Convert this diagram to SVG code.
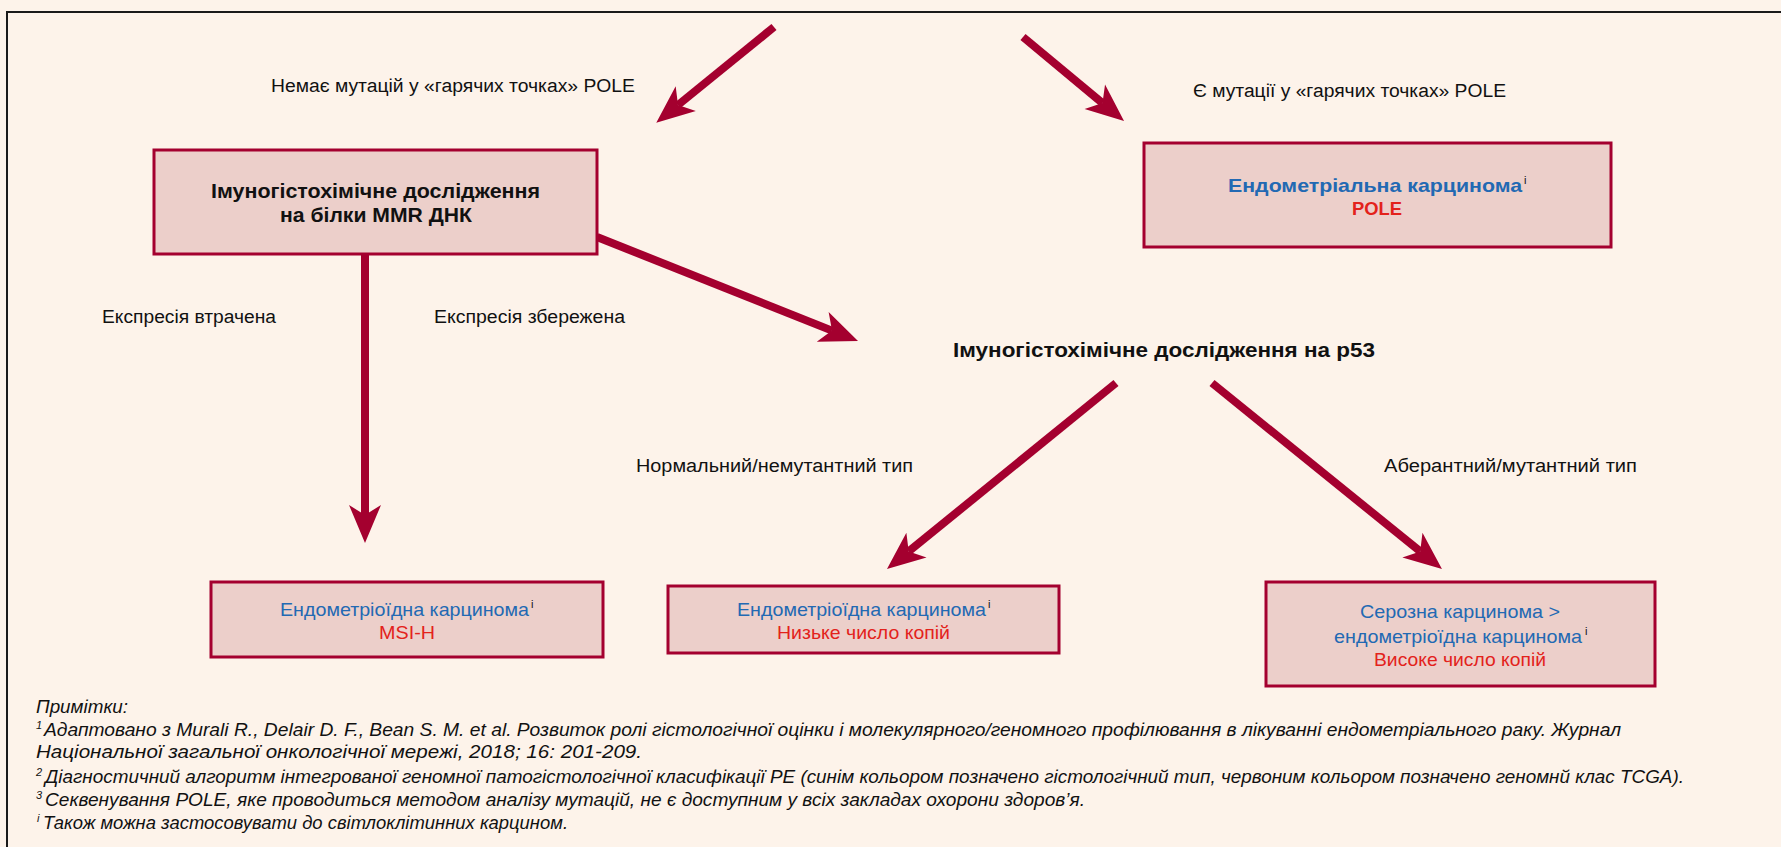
<svg xmlns="http://www.w3.org/2000/svg" width="1781" height="847" viewBox="0 0 1781 847">
<style>
.lbl{font-family:"Liberation Sans",Arial,sans-serif;font-size:18px;fill:#111}
.bold{font-family:"Liberation Sans",Arial,sans-serif;font-size:20px;font-weight:bold;fill:#111}
.box{fill:#ECCFCA;stroke:#A4002F;stroke-width:3}
.blue{font-family:"Liberation Sans",Arial,sans-serif;font-size:19px;fill:#2269B3}
.red{font-family:"Liberation Sans",Arial,sans-serif;font-size:19px;fill:#E3221B}
.sup{font-family:"Liberation Sans",Arial,sans-serif;font-size:11px;fill:#111}
.note{font-family:"Liberation Sans",Arial,sans-serif;font-size:18px;font-style:italic;fill:#111}
.nsup{font-family:"Liberation Sans",Arial,sans-serif;font-size:11px;font-style:italic;fill:#111}
.arr{stroke:#A4002F;stroke-width:8;fill:none;stroke-linecap:butt;marker-end:url(#head)}
</style>
<defs>
<marker id="head" markerUnits="userSpaceOnUse" orient="auto" refX="10" refY="0" markerWidth="40" markerHeight="34" overflow="visible">
<path d="M0,-16 L38,0 L0,16 L10,0 Z" fill="#A4002F"/>
</marker>
</defs>
<rect x="0" y="0" width="1781" height="847" fill="#FDF3EA"/>
<path d="M7,847 V12 H1781" fill="none" stroke="#1a1a1a" stroke-width="2"/>

<g id="connectors">
<line class="arr" x1="774" y1="27" x2="678" y2="105"/>
<line class="arr" x1="1023" y1="37" x2="1102.5" y2="103.1"/>
<line class="arr" x1="365" y1="254" x2="365" y2="515"/>
<line class="arr" x1="597" y1="237" x2="832" y2="330.6"/>
<line class="arr" x1="1116" y1="383" x2="908.7" y2="551.4"/>
<line class="arr" x1="1212" y1="383" x2="1420.2" y2="551.4"/>
</g>

<g id="labels">
<text class="lbl" x="271" y="92" textLength="364" lengthAdjust="spacingAndGlyphs">Немає мутацій у «гарячих точках» POLE</text>
<text class="lbl" x="1193" y="97" textLength="313" lengthAdjust="spacingAndGlyphs">Є мутації у «гарячих точках» POLE</text>
<text class="lbl" x="102" y="323" textLength="174" lengthAdjust="spacingAndGlyphs">Експресія втрачена</text>
<text class="lbl" x="434" y="323" textLength="191" lengthAdjust="spacingAndGlyphs">Експресія збережена</text>
<text class="lbl" x="636" y="472" textLength="277" lengthAdjust="spacingAndGlyphs">Нормальний/немутантний тип</text>
<text class="lbl" x="1384" y="472" textLength="253" lengthAdjust="spacingAndGlyphs">Аберантний/мутантний тип</text>
</g>

<g id="node-mmr">
<rect class="box" x="154" y="150" width="443" height="104"/>
<text class="bold" x="211" y="198" textLength="329" lengthAdjust="spacingAndGlyphs">Імуногістохімічне дослідження</text>
<text class="bold" x="280" y="222" textLength="192" lengthAdjust="spacingAndGlyphs">на білки MMR ДНК</text>
</g>

<g id="node-pole">
<rect class="box" x="1144" y="143" width="467" height="104"/>
<text class="blue" x="1228" y="192" font-weight="bold" textLength="294" lengthAdjust="spacingAndGlyphs">Ендометріальна карцинома</text>
<text class="sup" x="1524" y="184">і</text>
<text class="red" x="1352" y="215" font-weight="bold" textLength="50" lengthAdjust="spacingAndGlyphs">POLE</text>
</g>

<g id="node-p53">
<text class="bold" x="953" y="357" textLength="422" lengthAdjust="spacingAndGlyphs">Імуногістохімічне дослідження на p53</text>
</g>

<g id="node-msi">
<rect class="box" x="211" y="582" width="392" height="75"/>
<text class="blue" x="280" y="616" textLength="249" lengthAdjust="spacingAndGlyphs">Ендометріоїдна карцинома</text>
<text class="sup" x="531" y="608">і</text>
<text class="red" x="379" y="639" textLength="56" lengthAdjust="spacingAndGlyphs">MSI-H</text>
</g>

<g id="node-low">
<rect class="box" x="668" y="586" width="391" height="67"/>
<text class="blue" x="737" y="616" textLength="249" lengthAdjust="spacingAndGlyphs">Ендометріоїдна карцинома</text>
<text class="sup" x="988" y="608">і</text>
<text class="red" x="777" y="639" textLength="173" lengthAdjust="spacingAndGlyphs">Низьке число копій</text>
</g>

<g id="node-high">
<rect class="box" x="1266" y="582" width="389" height="104"/>
<text class="blue" x="1360" y="618" textLength="200" lengthAdjust="spacingAndGlyphs">Серозна карцинома &gt;</text>
<text class="blue" x="1334" y="643" textLength="248" lengthAdjust="spacingAndGlyphs">ендометріоїдна карцинома</text>
<text class="sup" x="1585" y="635">і</text>
<text class="red" x="1374" y="666" textLength="172" lengthAdjust="spacingAndGlyphs">Високе число копій</text>
</g>

<g id="notes">
<text class="note" x="36" y="713" textLength="92" lengthAdjust="spacingAndGlyphs">Примітки:</text>
<text class="nsup" x="36" y="729">1</text>
<text class="note" x="44" y="736" textLength="1577" lengthAdjust="spacingAndGlyphs">Адаптовано з Murali R., Delair D. F., Bean S. M. et al. Розвиток ролі гістологічної оцінки і молекулярного/геномного профілювання в лікуванні ендометріального раку. Журнал</text>
<text class="note" x="36" y="758" textLength="606" lengthAdjust="spacingAndGlyphs">Національної загальної онкологічної мережі, 2018; 16: 201-209.</text>
<text class="nsup" x="36" y="776">2</text>
<text class="note" x="45" y="783" textLength="1639" lengthAdjust="spacingAndGlyphs">Діагностичний алгоритм інтегрованої геномної патогістологічної класифікації PE (синім кольором позначено гістологічний тип, червоним кольором позначено геномнй клас TCGA).</text>
<text class="nsup" x="36" y="799">3</text>
<text class="note" x="45" y="806" textLength="1040" lengthAdjust="spacingAndGlyphs">Секвенування POLE, яке проводиться методом аналізу мутацій, не є доступним у всіх закладах охорони здоров’я.</text>
<text class="nsup" x="37" y="822">і</text>
<text class="note" x="43" y="829" textLength="525" lengthAdjust="spacingAndGlyphs">Також можна застосовувати до світлоклітинних карцином.</text>
</g>
</svg>
